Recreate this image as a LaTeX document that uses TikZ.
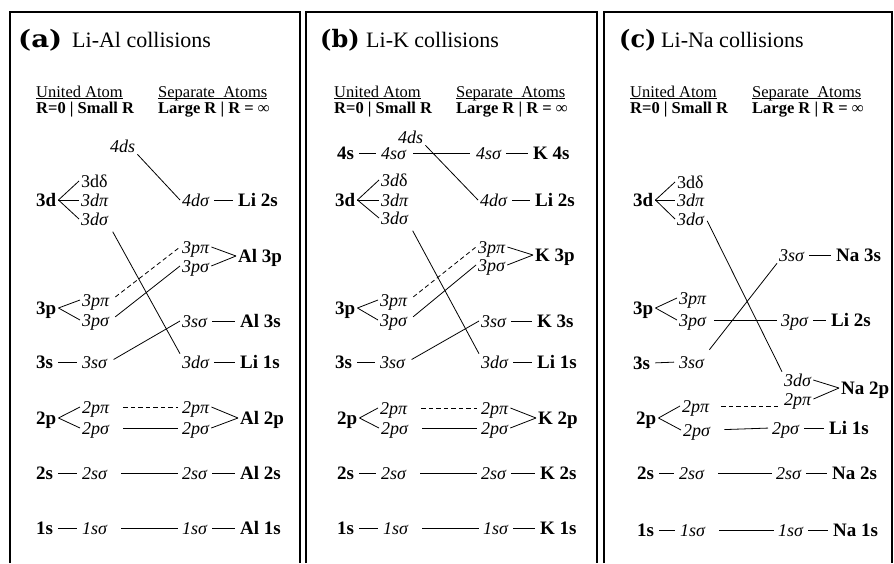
\documentclass[tikz,border=0pt]{standalone}
\usepackage{fontspec}
\setmainfont{Liberation Serif}
\newfontfamily\ttlfont{DejaVu Serif}
\newcommand\hul[1]{\underline{\smash{#1}}}
\newcommand\ttlbox[1]{\scalebox{1.15}[1]{#1}}
\tikzset{
  lbl/.style={inner sep=2pt, anchor=west},
  st/.style={lbl, text height=12.8pt, text depth=0pt, font=\fontsize{19}{19}\selectfont\bfseries},
  mo/.style={lbl, text height=12.2pt, text depth=0pt, font=\fontsize{18}{18}\selectfont\itshape},
  mor/.style={lbl, text height=12.2pt, text depth=0pt, font=\fontsize{18}{18}\selectfont},
  hdr/.style={anchor=base west, inner sep=0pt, font=\fontsize{16.5}{16.5}\selectfont},
  hdrb/.style={anchor=base west, inner sep=0pt, font=\fontsize{16.5}{16.5}\selectfont\bfseries},
  ttla/.style={anchor=base west, inner sep=0pt, font=\fontsize{24}{24}\selectfont\ttlfont\bfseries},
  ttlb/.style={anchor=base west, inner sep=0pt, font=\fontsize{22}{22}\selectfont},
  ln/.style={line width=0.8pt},
  dsh/.style={ln, dash pattern=on 4.5pt off 3pt},
  sh/.style={ln, shorten <=3pt, shorten >=3pt},
  lng/.style={shorten <=12pt, shorten >=2pt},
  sl/.style={shorten <=5pt},
  frame/.style={line width=1.3pt}
}
\begin{document}
\begin{tikzpicture}[x=1pt,y=-1pt]
\useasboundingbox (0,0) rectangle (894,563);
% frames
\draw[frame] (10,563) -- (10,12) -- (300,12) -- (300,563);
\draw[frame] (306,563) -- (306,12) -- (597,12) -- (597,563);
\draw[frame] (604,563) -- (604,12) -- (892,12) -- (892,563);

%%%%%%%%%%%%%%%% Panel (a)
\node[ttla] (aT1) at (18,47) {\ttlbox{(a)}};
\node[ttlb] (aT2) at (72,47) {Li-Al collisions};
\node[hdr] (aH1) at (36,97) {\hul{United Atom}};
\node[hdr] (aH2) at (158,97) {\hul{Separate\ \ Atoms}};
\node[hdrb] (aH3) at (36,113) {R=0 | Small R};
\node[hdrb] (aH4) at (158,113) {Large R | R = ∞};

\node[mo] (a4ds) at (108,146) {4ds};
\node[mo] (a4dsR) at (180,200) {4dσ};
\node[st] (aLi2s) at (236,200) {Li 2s};
\node[st] (a3d) at (34,200) {3d};
\node[mor] (a3ddL) at (79,181) {3dδ};
\node[mo] (a3dpL) at (79,200) {3dπ};
\node[mo] (a3dsL) at (79,219) {3dσ};
\node[mo] (a3ppR) at (180,247) {3pπ};
\node[mo] (a3psR) at (180,266) {3pσ};
\node[st] (aAl3p) at (236,256) {Al 3p};
\node[st] (a3p) at (34,308) {3p};
\node[mo] (a3ppL) at (80,300) {3pπ};
\node[mo] (a3psL) at (80,320) {3pσ};
\node[mo] (a3ssR) at (180,321) {3sσ};
\node[st] (aAl3s) at (238,321) {Al 3s};
\node[st] (a3s) at (34,362) {3s};
\node[mo] (a3ssL) at (80,362) {3sσ};
\node[mo] (a3dsR) at (180,362) {3dσ};
\node[st] (aLi1s) at (238,362) {Li 1s};
\node[st] (a2p) at (34,418) {2p};
\node[mo] (a2ppL) at (80,407) {2pπ};
\node[mo] (a2psL) at (80,428) {2pσ};
\node[mo] (a2ppR) at (180,407) {2pπ};
\node[mo] (a2psR) at (180,428) {2pσ};
\node[st] (aAl2p) at (238,418) {Al 2p};
\node[st] (a2s) at (34,473) {2s};
\node[mo] (a2ssL) at (80,473) {2sσ};
\node[mo] (a2ssR) at (180,473) {2sσ};
\node[st] (aAl2s) at (238,473) {Al 2s};
\node[st] (a1s) at (34,528) {1s};
\node[mo] (a1ssL) at (80,528) {1sσ};
\node[mo] (a1ssR) at (180,528) {1sσ};
\node[st] (aAl1s) at (238,528) {Al 1s};

\draw[ln] (a4ds.south east) -- (a4dsR.west);
\draw[sh] (a4dsR.east) -- (aLi2s.west);
\draw[ln] (a3d.east) -- (a3ddL.west);
\draw[ln] (a3d.east) -- (a3dpL.west);
\draw[ln] (a3d.east) -- (a3dsL.west);
\draw[ln,sl] (a3dsL.south east) -- (a3dsR.north west);
\draw[dsh,sl] (a3ppL.east) -- (a3ppR.west);
\draw[ln,sl] (a3psL.east) -- (a3psR.west);
\draw[ln,sl] (a3ssL.east) -- (a3ssR.west);
\draw[ln] (a3ppR.east) -- (aAl3p.west);
\draw[ln] (a3psR.east) -- (aAl3p.west);
\draw[sh] (a3ssR.east) -- (aAl3s.west);
\draw[sh] (a3dsR.east) -- (aLi1s.west);
\draw[ln] (a3p.east) -- (a3ppL.west);
\draw[ln] (a3p.east) -- (a3psL.west);
\draw[sh] (a3s.east) -- (a3ssL.west);
\draw[ln] (a2p.east) -- (a2ppL.west);
\draw[ln] (a2p.east) -- (a2psL.west);
\draw[dsh,lng] (a2ppL.east) -- (a2ppR.west);
\draw[ln,lng] (a2psL.east) -- (a2psR.west);
\draw[ln] (a2ppR.east) -- (aAl2p.west);
\draw[ln] (a2psR.east) -- (aAl2p.west);
\draw[sh] (a2s.east) -- (a2ssL.west);
\draw[ln,lng] (a2ssL.east) -- (a2ssR.west);
\draw[sh] (a2ssR.east) -- (aAl2s.west);
\draw[sh] (a1s.east) -- (a1ssL.west);
\draw[ln,lng] (a1ssL.east) -- (a1ssR.west);
\draw[sh] (a1ssR.east) -- (aAl1s.west);

%%%%%%%%%%%%%%%% Panel (b)
\node[ttla] (bT1) at (320,47) {(b)};
\node[ttlb] (bT2) at (366,47) {Li-K collisions};
\node[hdr] (bH1) at (334,97) {\hul{United Atom}};
\node[hdr] (bH2) at (456,97) {\hul{Separate\ \ Atoms}};
\node[hdrb] (bH3) at (334,113) {R=0 | Small R};
\node[hdrb] (bH4) at (456,113) {Large R | R = ∞};

\node[mo] (b4ds) at (396,137) {4ds};
\node[st] (b4s) at (335,153) {4s};
\node[mo] (b4ssL) at (379,153) {4sσ};
\node[mo] (b4ssR) at (474,153) {4sσ};
\node[st] (bK4s) at (531,153) {K 4s};
\node[mo] (b4dsR) at (478,200) {4dσ};
\node[st] (bLi2s) at (533,200) {Li 2s};
\node[st] (b3d) at (333,200) {3d};
\node[mo] (b3ddL) at (379,180) {3d\upshape δ};
\node[mo] (b3dpL) at (379,200) {3dπ};
\node[mo] (b3dsL) at (379,218) {3dσ};
\node[mo] (b3ppR) at (476,247) {3pπ};
\node[mo] (b3psR) at (476,265) {3pσ};
\node[st] (bK3p) at (533,255) {K 3p};
\node[st] (b3p) at (333,308) {3p};
\node[mo] (b3ppL) at (378,300) {3pπ};
\node[mo] (b3psL) at (378,320) {3pσ};
\node[mo] (b3ssR) at (479,321) {3sσ};
\node[st] (bK3s) at (535,321) {K 3s};
\node[st] (b3s) at (333,362) {3s};
\node[mo] (b3ssL) at (378,362) {3sσ};
\node[mo] (b3dsR) at (479,362) {3dσ};
\node[st] (bLi1s) at (535,362) {Li 1s};
\node[st] (b2p) at (335,418) {2p};
\node[mo] (b2ppL) at (378,408) {2pπ};
\node[mo] (b2psL) at (379,428) {2pσ};
\node[mo] (b2ppR) at (479,408) {2pπ};
\node[mo] (b2psR) at (479,428) {2pσ};
\node[st] (bK2p) at (536,418) {K 2p};
\node[st] (b2s) at (335,473) {2s};
\node[mo] (b2ssL) at (379,473) {2sσ};
\node[mo] (b2ssR) at (479,473) {2sσ};
\node[st] (bK2s) at (538,473) {K 2s};
\node[st] (b1s) at (335,528) {1s};
\node[mo] (b1ssL) at (381,528) {1sσ};
\node[mo] (b1ssR) at (481,528) {1sσ};
\node[st] (bK1s) at (538,528) {K 1s};

\draw[ln] (b4ds.south east) -- (b4dsR.west);
\draw[sh] (b4s.east) -- (b4ssL.west);
\draw[ln,shorten <=5pt,shorten >=4pt] (b4ssL.east) -- (b4ssR.west);
\draw[sh] (b4ssR.east) -- (bK4s.west);
\draw[sh] (b4dsR.east) -- (bLi2s.west);
\draw[ln] (b3d.east) -- (b3ddL.west);
\draw[ln] (b3d.east) -- (b3dpL.west);
\draw[ln] (b3d.east) -- (b3dsL.west);
\draw[ln,sl] (b3dsL.south east) -- (b3dsR.north west);
\draw[dsh,sl] (b3ppL.east) -- (b3ppR.west);
\draw[ln,sl] (b3psL.east) -- (b3psR.west);
\draw[ln,sl] (b3ssL.east) -- (b3ssR.west);
\draw[ln] (b3ppR.east) -- (bK3p.west);
\draw[ln] (b3psR.east) -- (bK3p.west);
\draw[sh] (b3ssR.east) -- (bK3s.west);
\draw[sh] (b3dsR.east) -- (bLi1s.west);
\draw[ln] (b3p.east) -- (b3ppL.west);
\draw[ln] (b3p.east) -- (b3psL.west);
\draw[sh] (b3s.east) -- (b3ssL.west);
\draw[ln] (b2p.east) -- (b2ppL.west);
\draw[ln] (b2p.east) -- (b2psL.west);
\draw[dsh,lng] (b2ppL.east) -- (b2ppR.west);
\draw[ln,lng] (b2psL.east) -- (b2psR.west);
\draw[ln] (b2ppR.east) -- (bK2p.west);
\draw[ln] (b2psR.east) -- (bK2p.west);
\draw[sh] (b2s.east) -- (b2ssL.west);
\draw[ln,lng] (b2ssL.east) -- (b2ssR.west);
\draw[sh] (b2ssR.east) -- (bK2s.west);
\draw[sh] (b1s.east) -- (b1ssL.west);
\draw[ln,lng] (b1ssL.east) -- (b1ssR.west);
\draw[sh] (b1ssR.east) -- (bK1s.west);

%%%%%%%%%%%%%%%% Panel (c)
\node[ttla] (cT1) at (619,47) {(c)};
\node[ttlb] (cT2) at (661,47) {Li-Na collisions};
\node[hdr] (cH1) at (630,97) {\hul{United Atom}};
\node[hdr] (cH2) at (752,97) {\hul{Separate\ \ Atoms}};
\node[hdrb] (cH3) at (630,113) {R=0 | Small R};
\node[hdrb] (cH4) at (752,113) {Large R | R = ∞};

\node[st] (c3d) at (631,200) {3d};
\node[mor] (c3ddL) at (675,182) {3dδ};
\node[mo] (c3dpL) at (675,200) {3dπ};
\node[mo] (c3dsL) at (675,219) {3dσ};
\node[mo] (c3ssR) at (777,255) {3sσ};
\node[st] (cNa3s) at (834,255) {Na 3s};
\node[st] (c3p) at (631,308) {3p};
\node[mo] (c3ppL) at (677,298) {3pπ};
\node[mo] (c3psL) at (677,320) {3pσ};
\node[mo] (c3psR) at (779,320) {3pσ};
\node[st] (cLi2s) at (829,320) {Li 2s};
\node[st] (c3s) at (631,363) {3s};
\node[mo] (c3ssL) at (677,362) {3sσ};
\node[mo] (c3dsR) at (782,380) {3dσ};
\node[mo] (c2ppR) at (782,399) {2pπ};
\node[st] (cNa2p) at (839,388) {Na 2p};
\node[st] (c2p) at (634,418) {2p};
\node[mo] (c2ppL) at (680,406) {2pπ};
\node[mo] (c2psL) at (681,430) {2pσ};
\node[mo] (c2psR) at (770,428) {2pσ};
\node[st] (cLi1s) at (827,428) {Li 1s};
\node[st] (c2s) at (635,473) {2s};
\node[mo] (c2ssL) at (677,473) {2sσ};
\node[mo] (c2ssR) at (774,473) {2sσ};
\node[st] (cNa2s) at (830,473) {Na 2s};
\node[st] (c1s) at (635,530) {1s};
\node[mo] (c1ssL) at (678,530) {1sσ};
\node[mo] (c1ssR) at (776,530) {1sσ};
\node[st] (cNa1s) at (831,530) {Na 1s};

\draw[ln] (c3d.east) -- (c3ddL.west);
\draw[ln] (c3d.east) -- (c3dpL.west);
\draw[ln] (c3d.east) -- (c3dsL.west);
\draw[ln,shorten <=2pt] (c3dsL.east) -- (c3dsR.north west);
\draw[ln,shorten >=5pt] (c3ssR.south west) -- (c3ssL.north east);
\draw[sh] (c3ssR.east) -- (cNa3s.west);
\draw[ln] (c3p.east) -- (c3ppL.west);
\draw[ln] (c3p.east) -- (c3psL.west);
\draw[ln,shorten <=6pt,shorten >=2pt] (c3psL.east) -- (c3psR.west);
\draw[sh] (c3psR.east) -- (cLi2s.west);
\draw[sh] (c3s.east) -- (c3ssL.west);
\draw[ln] (c3dsR.east) -- (cNa2p.west);
\draw[ln] (c2ppR.east) -- (cNa2p.west);
\draw[ln] (c2p.east) -- (c2ppL.west);
\draw[ln] (c2p.east) -- (c2psL.west);
\draw[dsh,shorten <=10pt,shorten >=2pt] (c2ppL.east) -- (c2ppL.east -| c2ppR.west);
\draw[ln,lng] (c2psL.east) -- (c2psR.west);
\draw[sh] (c2psR.east) -- (cLi1s.west);
\draw[sh] (c2s.east) -- (c2ssL.west);
\draw[ln,lng] (c2ssL.east) -- (c2ssR.west);
\draw[sh] (c2ssR.east) -- (cNa2s.west);
\draw[sh] (c1s.east) -- (c1ssL.west);
\draw[ln,lng] (c1ssL.east) -- (c1ssR.west);
\draw[sh] (c1ssR.east) -- (cNa1s.west);
\end{tikzpicture}
\end{document}
